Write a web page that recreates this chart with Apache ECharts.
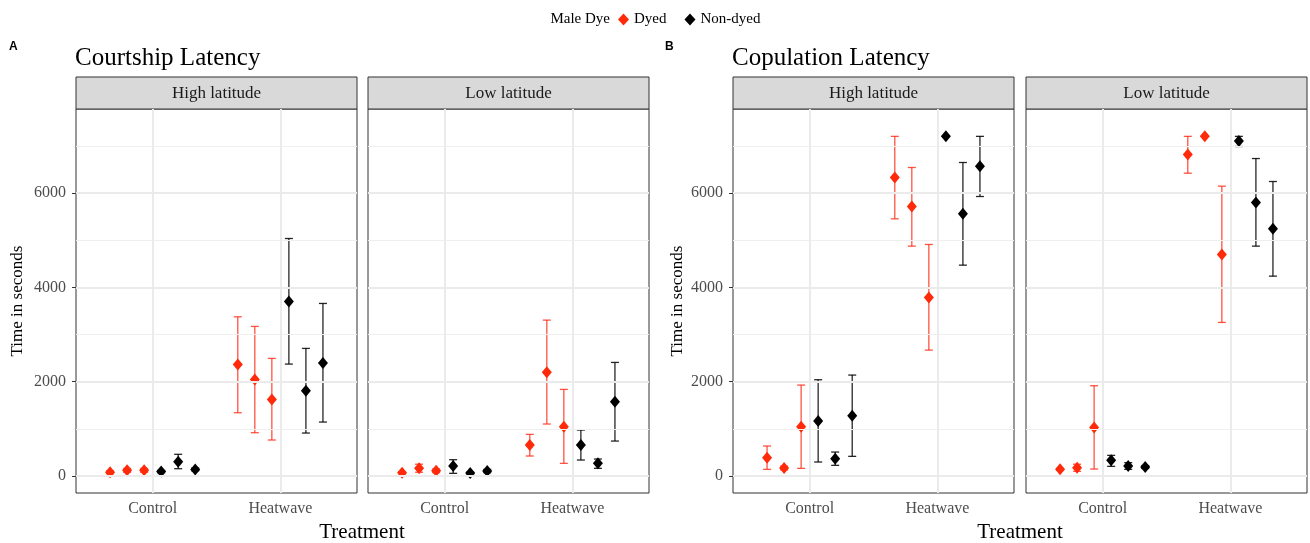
<!DOCTYPE html>
<html>
<head>
<meta charset="utf-8">
<script src="https://cdn.jsdelivr.net/npm/echarts@6/dist/echarts.min.js"></script>
<style>
  html, body { margin: 0; padding: 0; background: #fff; }
  #main { width: 1310px; height: 543px; }
</style>
</head>
<body>
<div id="main"></div>
<script>
const treatments = ['Control', 'Heatwave'];
const latitudes = ['High latitude', 'Low latitude'];
const dyes = ['Dyed', 'Non-dyed'];
const yMajorTicks = [0, 2000, 4000, 6000];
const yMinorTicks = [1000, 3000, 5000, 7000];
const xTicks = [1, 2];

// 12 values per panel: Control (3 dyed, 3 non-dyed), then Heatwave in the same order
const courtHighMean = [80, 120, 120, 95, 300, 140, 2366, 2048, 1624, 3700, 1808, 2394];
const courtHighLow = [50, 80, 80, 70, 155, 110, 1341, 918, 763, 2373, 911, 1144];
const courtHighHigh = [110, 160, 160, 120, 460, 170, 3375, 3171, 2493, 5035, 2705, 3658];

const courtLowMean = [70, 165, 110, 212, 65, 106, 657, 2197, 1045, 657, 268, 1575];
const courtLowLow = [50, 80, 70, 57, 45, 70, 424, 1102, 268, 339, 163, 741];
const courtLowHigh = [90, 250, 150, 346, 85, 140, 883, 3305, 1836, 975, 360, 2408];

const copHighMean = [388, 169, 1045, 1165, 367, 1278, 6328, 5713, 3785, 7200, 5557, 6568];
const copHighLow = [141, 130, 162, 297, 226, 417, 5452, 4873, 2669, 7200, 4470, 5925];
const copHighHigh = [636, 210, 1928, 2041, 508, 2140, 7200, 6540, 4908, 7200, 6646, 7200];

const copLowMean = [141, 177, 1031, 332, 212, 191, 6815, 7200, 4696, 7104, 5798, 5240];
const copLowLow = [120, 100, 148, 205, 141, 160, 6419, 7200, 3256, 6985, 4873, 4237];
const copLowHigh = [160, 250, 1914, 438, 283, 222, 7200, 7200, 6144, 7200, 6730, 6243];

const panels = [
  [courtHighMean, courtHighLow, courtHighHigh],
  [courtLowMean, courtLowLow, courtLowHigh],
  [copHighMean, copHighLow, copHighHigh],
  [copLowMean, copLowLow, copLowHigh]
];

const RED = '#ff2a0a';
const BAR_COLORS = ['rgba(255,40,20,0.8)', 'rgba(0,0,0,0.85)'];
const POINT_COLORS = [RED, '#000000'];
const SERIF = 'Liberation Serif';
const dodgeWidth = 0.8;

const grids = [
  { left: 76, top: 109, width: 281, height: 384 },
  { left: 368, top: 109, width: 281, height: 384 },
  { left: 733, top: 109, width: 281, height: 384 },
  { left: 1026, top: 109, width: 281, height: 384 }
];

// dodge position of slot s (0..5) inside treatment t
function xPos (t, s) {
  return (t + 1) + (s - 2.5) * dodgeWidth / 6;
}

function renderErrorBar (params, api) {
  const x = api.value(0);
  const top = api.coord([x, api.value(2)]);
  const bot = api.coord([x, api.value(1)]);
  const hw = 4;
  const style = { stroke: api.visual('color'), lineWidth: 1.3 };
  return {
    type: 'group',
    children: [
      { type: 'line', shape: { x1: top[0], y1: top[1], x2: bot[0], y2: bot[1] }, style: style },
      { type: 'line', shape: { x1: top[0] - hw, y1: top[1], x2: top[0] + hw, y2: top[1] }, style: style },
      { type: 'line', shape: { x1: bot[0] - hw, y1: bot[1], x2: bot[0] + hw, y2: bot[1] }, style: style }
    ]
  };
}

const xAxes = [];
const yAxes = [];
const series = [];
const graphics = [];

grids.forEach(function (g, gi) {
  const leftPanel = gi % 2 === 0;
  xAxes.push({
    type: 'value',
    gridIndex: gi,
    min: 0.4,
    max: 2.6,
    axisLine: { show: false },
    splitLine: { show: false },
    axisTick: { show: true, customValues: xTicks, length: 4, lineStyle: { color: '#333333', width: 1 } },
    axisLabel: {
      customValues: xTicks,
      formatter: function (v) { return treatments[Math.round(v) - 1]; },
      margin: 8,
      fontFamily: SERIF,
      fontSize: 16,
      color: '#4d4d4d'
    }
  });
  yAxes.push({
    type: 'value',
    gridIndex: gi,
    min: -360,
    max: 7780,
    name: leftPanel ? 'Time in seconds' : '',
    nameLocation: 'middle',
    nameRotate: 90,
    nameGap: gi === 0 ? 50 : 47,
    nameTextStyle: { fontFamily: SERIF, fontSize: 17, color: '#000' },
    axisLine: { show: false },
    splitLine: { show: false },
    axisTick: { show: leftPanel, customValues: yMajorTicks, length: 4, lineStyle: { color: '#333333', width: 1 } },
    axisLabel: {
      show: leftPanel,
      customValues: yMajorTicks,
      formatter: function (v) { return String(v); },
      margin: 10,
      fontFamily: SERIF,
      fontSize: 16,
      color: '#4d4d4d'
    }
  });

  // panel grid lines
  const gridLines = [];
  yMinorTicks.forEach(function (v) {
    gridLines.push({ yAxis: v, lineStyle: { color: '#efefef', width: 1, type: 'solid' } });
  });
  yMajorTicks.forEach(function (v) {
    gridLines.push({ yAxis: v, lineStyle: { color: '#ebebeb', width: 2, type: 'solid' } });
  });
  xTicks.forEach(function (v) {
    gridLines.push({ xAxis: v, lineStyle: { color: '#ebebeb', width: 2, type: 'solid' } });
  });
  series.push({
    type: 'scatter',
    xAxisIndex: gi,
    yAxisIndex: gi,
    data: [],
    silent: true,
    z: 1,
    markLine: { silent: true, symbol: 'none', label: { show: false }, animation: false, data: gridLines }
  });

  const mean = panels[gi][0];
  const low = panels[gi][1];
  const high = panels[gi][2];
  dyes.forEach(function (dye, di) {
    const bars = [];
    const pts = [];
    treatments.forEach(function (tr, t) {
      for (let k = 0; k < 3; k++) {
        const s = di * 3 + k;
        const idx = t * 6 + s;
        bars.push([xPos(t, s), low[idx], high[idx]]);
        pts.push([xPos(t, s), mean[idx]]);
      }
    });
    series.push({
      type: 'custom',
      name: dye,
      xAxisIndex: gi,
      yAxisIndex: gi,
      renderItem: renderErrorBar,
      itemStyle: { color: BAR_COLORS[di] },
      encode: { x: 0, y: [1, 2] },
      data: bars,
      z: 2
    });
    series.push({
      type: 'scatter',
      name: dye,
      xAxisIndex: gi,
      yAxisIndex: gi,
      symbol: 'diamond',
      symbolSize: [10, 12],
      itemStyle: { color: POINT_COLORS[di], opacity: 1 },
      data: pts,
      z: 3
    });
  });

  // facet strip
  graphics.push({
    type: 'rect',
    shape: { x: g.left, y: 77, width: g.width, height: 32 },
    style: { fill: '#d9d9d9', stroke: '#333333', lineWidth: 1 }
  });
  graphics.push({
    type: 'text',
    x: g.left + g.width / 2,
    y: 94,
    style: {
      text: latitudes[gi % 2],
      font: '17px "' + SERIF + '"',
      fill: '#1a1a1a',
      align: 'center',
      verticalAlign: 'middle'
    }
  });
});

// panel tags, x-axis titles, legend title
[['A', 9], ['B', 665]].forEach(function (p) {
  graphics.push({
    type: 'text', x: p[1], y: 47,
    style: { text: p[0], font: 'bold 12px "Liberation Sans"', fill: '#000', verticalAlign: 'middle' }
  });
});
[362, 1020].forEach(function (cx) {
  graphics.push({
    type: 'text', x: cx, y: 532,
    style: { text: 'Treatment', font: '21px "' + SERIF + '"', fill: '#000', align: 'center', verticalAlign: 'middle' }
  });
});
graphics.push({
  type: 'text', x: 610, y: 19,
  style: { text: 'Male Dye', font: '15px "' + SERIF + '"', fill: '#000', align: 'right', verticalAlign: 'middle' }
});

const chart = echarts.init(document.getElementById('main'));
chart.setOption({
  animation: false,
  backgroundColor: '#ffffff',
  title: [
    { text: 'Courtship Latency', left: 75, top: 46, padding: 0, textStyle: { fontFamily: SERIF, fontSize: 25, fontWeight: 'normal', color: '#000' } },
    { text: 'Copulation Latency', left: 732, top: 46, padding: 0, textStyle: { fontFamily: SERIF, fontSize: 25, fontWeight: 'normal', color: '#000' } }
  ],
  legend: {
    top: 12,
    left: 618,
    padding: 0,
    selectedMode: false,
    itemWidth: 11,
    itemHeight: 12,
    itemGap: 18,
    textStyle: { fontFamily: SERIF, fontSize: 15, color: '#000' },
    data: [
      { name: 'Dyed', icon: 'diamond', itemStyle: { color: RED } },
      { name: 'Non-dyed', icon: 'diamond', itemStyle: { color: '#000' } }
    ]
  },
  grid: grids.map(function (g) {
    return Object.assign({ show: true, borderColor: '#333333', borderWidth: 1, backgroundColor: '#fff' }, g);
  }),
  xAxis: xAxes,
  yAxis: yAxes,
  series: series,
  graphic: graphics
});
</script>
</body>
</html>
